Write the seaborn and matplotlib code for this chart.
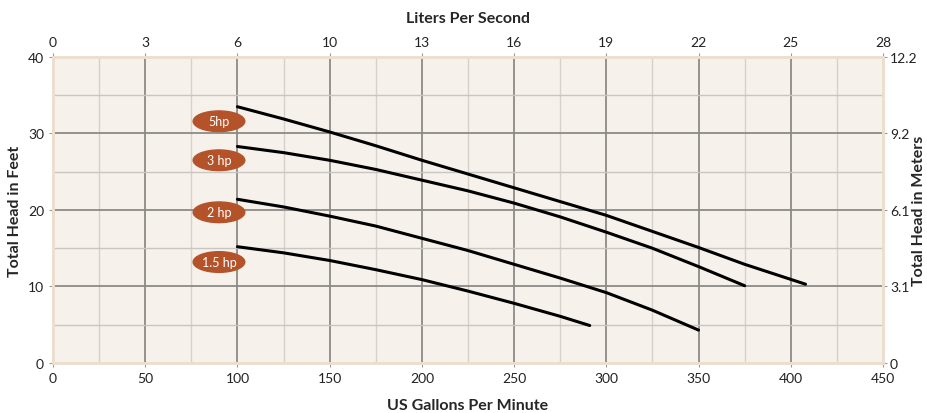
import numpy as np
import pandas as pd
import seaborn as sns
import matplotlib
matplotlib.use('Agg')
import matplotlib.pyplot as plt
from matplotlib.patches import Ellipse

# pump curves (US gpm vs total head in feet)
gpm_5hp = [100, 125, 150, 175, 200, 225, 250, 275, 300, 325, 350, 375, 408]
head_5hp = [33.5, 31.9, 30.2, 28.4, 26.5, 24.7, 22.9, 21.1, 19.3, 17.2, 15.1, 12.9, 10.3]
gpm_3hp = [100, 125, 150, 175, 200, 225, 250, 275, 300, 325, 350, 375]
head_3hp = [28.3, 27.5, 26.5, 25.3, 23.9, 22.5, 20.9, 19.1, 17.1, 15.0, 12.6, 10.1]
gpm_2hp = [100, 125, 150, 175, 200, 225, 250, 275, 300, 325, 350]
head_2hp = [21.4, 20.4, 19.2, 17.9, 16.3, 14.7, 12.9, 11.1, 9.2, 6.9, 4.3]
gpm_15hp = [100, 125, 150, 175, 200, 225, 250, 275, 291]
head_15hp = [15.2, 14.4, 13.4, 12.2, 10.9, 9.4, 7.8, 6.1, 4.9]

labels = ['5hp', '3 hp', '2 hp', '1.5 hp']
label_x = [90, 90, 90, 90]
label_y = [31.6, 26.5, 19.7, 13.2]

gpm_ticks = [0, 50, 100, 150, 200, 250, 300, 350, 400, 450]
lps_labels = ['0', '3', '6', '10', '13', '16', '19', '22', '25', '28']
ft_ticks = [0, 10, 20, 30, 40]
m_labels = ['0', '3.1', '6.1', '9.2', '12.2']

sns.set_style('white')
plt.rcParams['font.family'] = ['Lato', 'DejaVu Sans']

frames = []
for name, x, y in [('5hp', gpm_5hp, head_5hp), ('3hp', gpm_3hp, head_3hp),
                   ('2hp', gpm_2hp, head_2hp), ('1.5hp', gpm_15hp, head_15hp)]:
    frames.append(pd.DataFrame({'gpm': x, 'head': y, 'pump': name}))
df = pd.concat(frames, ignore_index=True)

fig = plt.figure(figsize=(9.28, 4.14), dpi=100, facecolor='white')
ax = fig.add_axes([0.0571, 0.1208, 0.8944, 0.7391])
ax.set_facecolor('#f7f1eb')

# grid: major every 50 gpm / 10 ft, minor in between
for x in range(0, 451, 25):
    if x % 50 == 0:
        ax.axvline(x, color='#8c8a88', lw=1.3, zorder=1)
    else:
        ax.axvline(x, color='#d6d1cb', lw=1.0, zorder=1)
for y in range(0, 41, 5):
    if y % 10 == 0:
        ax.axhline(y, color='#8c8a88', lw=1.3, zorder=1)
    else:
        ax.axhline(y, color='#c9c5c0', lw=1.0, zorder=1)

sns.lineplot(data=df, x='gpm', y='head', hue='pump', palette=['black'] * 4,
             lw=2.2, legend=False, ax=ax, zorder=3, estimator=None, sort=False)

for lab, lx, ly in zip(labels, label_x, label_y):
    ax.add_patch(Ellipse((lx, ly), 28, 2.7, color='#b4532a', zorder=4))
    ax.text(lx, ly, lab, color='white', fontsize=9, ha='center', va='center', zorder=5)

ax.set_xlim(0, 450)
ax.set_ylim(0, 40)
ax.set_xticks(gpm_ticks)
ax.set_yticks(ft_ticks)
ax.tick_params(axis='both', labelsize=10, length=3, color='#999999', colors='#222222')
ax.set_xlabel('US Gallons Per Minute', fontsize=11.5, fontweight='bold')
ax.xaxis.set_label_coords(0.5, -0.115)
ax.set_ylabel('Total Head in Feet', fontsize=11.5, fontweight='bold')
ax.yaxis.set_label_coords(-0.037, 0.5)
for s in ax.spines.values():
    s.set_color('#ecdfcf')
    s.set_linewidth(2)

ax_top = ax.twiny()
ax_top.set_xlim(0, 450)
ax_top.set_xticks(gpm_ticks)
ax_top.set_xticklabels(lps_labels)
ax_top.tick_params(axis='x', labelsize=10, length=3, color='#999999', colors='#222222')
ax_top.set_xlabel('Liters Per Second', fontsize=11.5, fontweight='bold')
ax_top.xaxis.set_label_coords(0.5, 1.115)

ax_right = ax.twinx()
ax_right.set_ylim(0, 40)
ax_right.set_yticks(ft_ticks)
ax_right.set_yticklabels(m_labels)
ax_right.tick_params(axis='y', labelsize=10, length=3, pad=2, color='#999999', colors='#222222')
ax_right.set_ylabel('Total Head in Meters', fontsize=11.5, fontweight='bold')
ax_right.yaxis.set_label_coords(1.035, 0.5)

for a in (ax_top, ax_right):
    for s in a.spines.values():
        s.set_color('#ecdfcf')
        s.set_linewidth(2)

fig.savefig('out.png', dpi=100, facecolor='white')
